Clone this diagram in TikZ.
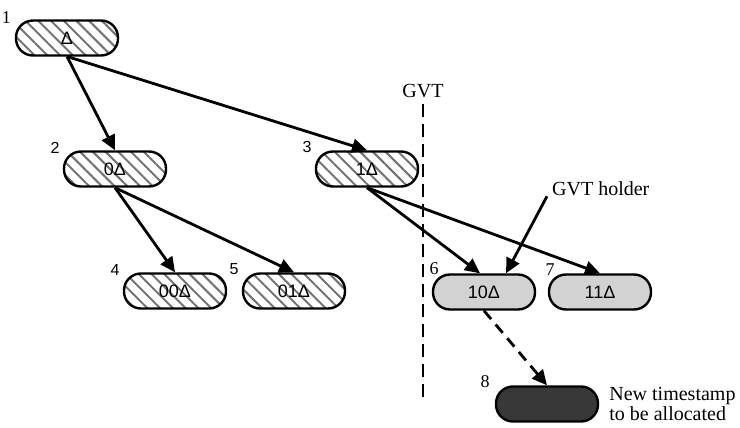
\documentclass[tikz,border=0pt]{standalone}
\usepackage{fontspec}
\setmainfont{Liberation Serif}
\setsansfont{Liberation Sans}
\usepackage{tikz}
\usetikzlibrary{arrows.meta,positioning,patterns.meta}

\begin{document}
\begin{tikzpicture}[
        x=1pt, y=-1pt,
        stamp/.style={draw, line width=2.4pt, rounded corners=17pt, minimum width=102pt, minimum height=35pt, inner sep=0pt, font=\sffamily\fontsize{18}{20}\selectfont},
        hatched/.style={stamp, pattern={Lines[angle=-45, distance=9pt, line width=2pt]}, pattern color=black!55},
        shaded/.style={stamp, fill=gray!35},
        fresh/.style={stamp, fill=black!78},
        num/.style={anchor=south east, inner sep=0pt, font=\fontsize{18}{20}\selectfont},
        snum/.style={num, xshift=-3pt, yshift=-3pt, font=\sffamily\fontsize{16}{18}\selectfont},
        note/.style={font=\fontsize{20}{20}\selectfont, inner sep=0pt, align=left},
        arrow/.style={-{Triangle[length=15pt, width=14pt]}, line width=2.8pt}
    ]
        \useasboundingbox (0,0) rectangle (740,428);

        \node[hatched, label={[num, xshift=-4pt, yshift=-4pt]north west:1}] (root) at (67,38) {Δ};
        \node[hatched, label={[snum]north west:2}] (t0) at (115,169) {0Δ};
        \node[hatched, label={[snum]north west:3}] (t1) at (367,169) {1Δ};
        \node[hatched, label={[snum]north west:4}] (t00) at (175,291) {00Δ};
        \node[hatched, label={[snum]north west:5}] (t01) at (294,291) {01Δ};
        \node[shaded, label={[num, xshift=7pt, yshift=-2pt]north west:6}] (t10) at (484,292) {10Δ};
        \node[shaded, label={[num, xshift=7pt, yshift=-2pt]north west:7}] (t11) at (600,292) {11Δ};
        \node[fresh, label={[num, xshift=-5pt, yshift=-3pt]north west:8}] (new) at (547,404) {};

        % GVT line
        \coordinate (gvttop) at (423,104);
        \coordinate (gvtbot) at (423,398);
        \node[note, above=6pt of gvttop] (gvt) {GVT};
        \draw[line width=2.4pt, dash pattern=on 13pt off 7pt] (gvttop) -- (gvtbot);

        \node[note, anchor=west] (holder) at (552,189) {GVT holder};
        \node[note, right=10pt of new] (newlbl) {New timestamp\\to be allocated};

        \draw[arrow] (root.south) -- (t0.north);
        \draw[arrow] (root.south) -- (t1.north);
        \draw[arrow] (t0.south) -- (t00.north);
        \draw[arrow] (t0.south) -- (t01.north);
        \draw[arrow] (t1.south) -- ([xshift=-4pt]t10.north);
        \draw[arrow] (t1.south) -- (t11.north);
        \draw[arrow] ([xshift=-5pt]holder.south west) -- ([xshift=22pt]t10.north);
        \draw[arrow, dash pattern=on 11pt off 7pt] (t10.south) -- (new.north);
    \end{tikzpicture}
\end{document}
